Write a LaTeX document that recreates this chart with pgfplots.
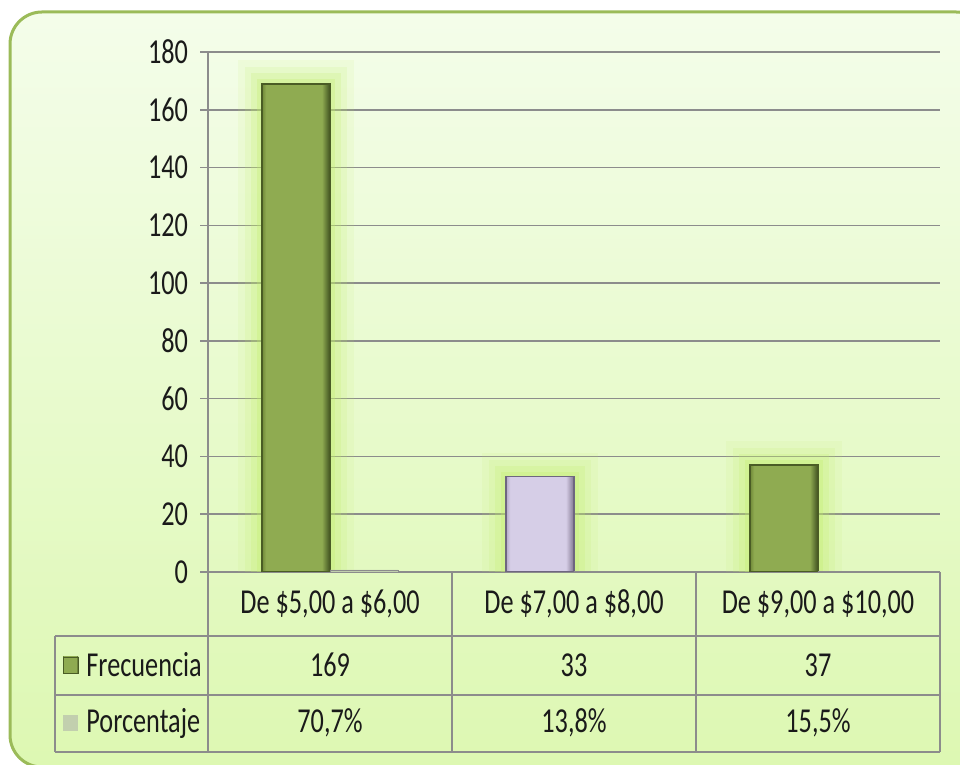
\documentclass[border=0pt]{standalone}
\usepackage{pgfplots}
\pgfplotsset{compat=1.18}
\usepackage{fontspec}
\setmainfont{Carlito}[FakeStretch=0.75]
\definecolor{bordergreen}{HTML}{9BBB59}
\definecolor{bgtop}{HTML}{F4FDEA}
\definecolor{bgbot}{HTML}{DDF8B2}
\definecolor{gridgray}{HTML}{8C8C8C}
\definecolor{txt}{HTML}{1A1A1A}
\definecolor{gmid}{HTML}{8FAB51}
\definecolor{gleft}{HTML}{6F8838}
\definecolor{gright}{HTML}{3F5020}
\definecolor{gedge}{HTML}{4A5C25}
\definecolor{lmid}{HTML}{D6CEE7}
\definecolor{lleft}{HTML}{B3A9C6}
\definecolor{lright}{HTML}{7E748C}
\definecolor{ledge}{HTML}{6E6680}
\definecolor{glowc}{HTML}{C2EE6A}
\definecolor{porc}{HTML}{C2CFAE}
\pgfdeclarehorizontalshading{gbar}{100bp}{color(0bp)=(gleft); color(25bp)=(gleft); color(28bp)=(gmid); color(69bp)=(gmid); color(75bp)=(gright); color(100bp)=(gright)}
\pgfdeclarehorizontalshading{lbar}{100bp}{color(0bp)=(lleft); color(25bp)=(lleft); color(28bp)=(lmid); color(69bp)=(lmid); color(75bp)=(lright); color(100bp)=(lright)}
\begin{document}
\begin{tikzpicture}
\fontsize{17.5pt}{21pt}\selectfont
\useasboundingbox (0pt,0pt) rectangle (480pt,382.5pt);
\shade[top color=bgtop, bottom color=bgbot, rounded corners=16pt] (5pt,-1pt) rectangle (494pt,376.5pt);
\draw[bordergreen, line width=1.5pt, rounded corners=16pt] (5pt,-1pt) rectangle (494pt,376.5pt);
\begin{axis}[
  at={(104pt,96.5pt)}, anchor=south west,
  scale only axis, width=366pt, height=260pt,
  xmin=-0.5, xmax=2.5, ymin=0, ymax=180,
  ytick={0,20,...,180},
  xtick={0,1,2},
  xticklabels={{De \$5,00 a \$6,00}, {De \$7,00 a \$8,00}, {De \$9,00 a \$10,00}},
  xtick style={draw=none},
  xticklabel style={anchor=center, yshift=-12pt, text=txt},
  yticklabel style={text=txt},
  /pgf/number format/assume math mode=true,
  tick align=outside, major tick length=4pt,
  ytick style={gridgray, line width=0.8pt},
  ymajorgrids, major grid style={gridgray, line width=0.8pt},
  axis x line*=bottom, axis y line*=left,
  axis line style={gridgray, line width=0.8pt, -},
  glow/.style={
    preaction={draw=glowc, draw opacity=0.10, line width=24pt},
    preaction={draw=glowc, draw opacity=0.14, line width=17pt},
    preaction={draw=glowc, draw opacity=0.20, line width=11pt},
    preaction={draw=glowc, draw opacity=0.28, line width=5pt}},
  greenbar/.style={glow, shading=gbar, shading angle=0, draw=gedge, line width=0.8pt},
  lavbar/.style={glow, shading=lbar, shading angle=0, draw=ledge, line width=0.8pt},
]
\addplot[ybar, bar width=34pt, bar shift=-17pt, greenbar] coordinates {(0,169)};
\addplot[ybar, bar width=34pt, bar shift=-17pt, lavbar] coordinates {(1,33)};
\addplot[ybar, bar width=34pt, bar shift=-17pt, greenbar] coordinates {(2,37)};
\addplot[ybar, bar width=34pt, bar shift=17pt, fill=porc, draw=gridgray, line width=0.4pt] coordinates {(0,0.707) (1,0.138) (2,0.155)};
\end{axis}
% data table
\begin{scope}[gridgray, line width=0.8pt]
\draw (104pt,96.5pt) -- (104pt,6.5pt);
\draw (27.5pt,64.5pt) -- (470pt,64.5pt);
\draw (27.5pt,35pt) -- (470pt,35pt);
\draw (27.5pt,6.5pt) -- (470pt,6.5pt);
\draw (27.5pt,64.5pt) -- (27.5pt,6.5pt);
\draw (226pt,96.5pt) -- (226pt,6.5pt);
\draw (348pt,96.5pt) -- (348pt,6.5pt);
\draw (470pt,96.5pt) -- (470pt,6.5pt);
\end{scope}
\begin{scope}[every node/.style={text=txt, inner sep=0pt}]
\node at (165pt,50pt) {169};
\node at (287pt,50pt) {33};
\node at (409pt,50pt) {37};
\node at (165pt,21pt) {70,7\%};
\node at (287pt,21pt) {13,8\%};
\node at (409pt,21pt) {15,5\%};
\node[anchor=west] at (43pt,50pt) {Frecuencia};
\node[anchor=west] at (43pt,21pt) {Porcentaje};
\end{scope}
\shade[shading=gbar, shading angle=0, draw=gedge, line width=0.4pt] (31.5pt,46pt) rectangle (39pt,54pt);
\fill[porc] (31.5pt,17pt) rectangle (39pt,25pt);
\end{tikzpicture}
\end{document}
